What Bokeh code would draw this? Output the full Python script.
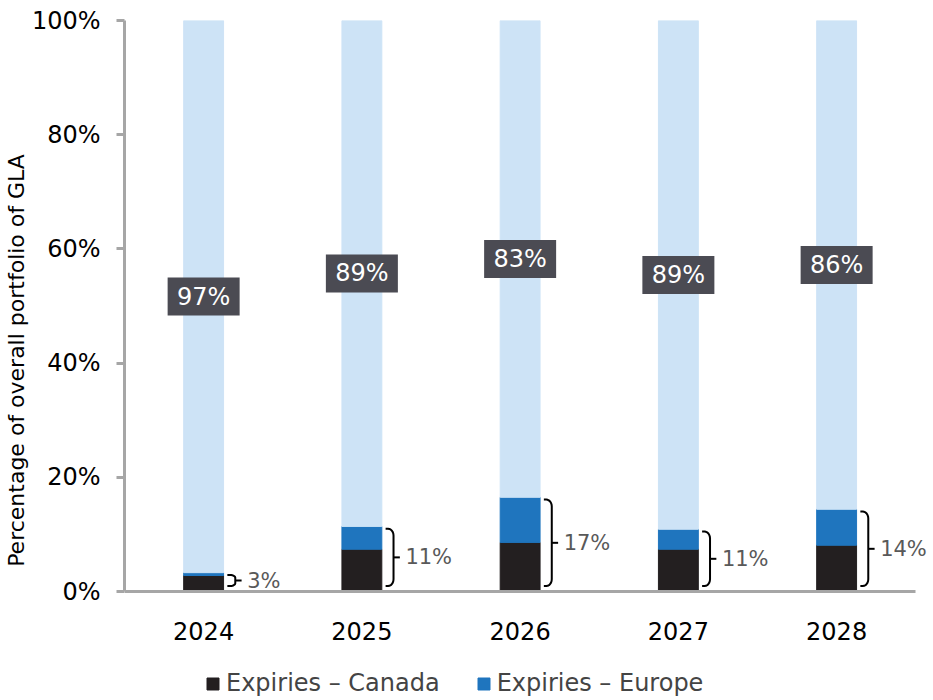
import math
from bokeh.plotting import figure
from bokeh.models import Range1d, FixedTicker, Legend, LegendItem, LabelSet, ColumnDataSource
from bokeh.core.properties import value
from bokeh.embed import file_html
from bokeh.resources import INLINE

years = ["2024", "2025", "2026", "2027", "2028"]
canada = [2.8, 7.4, 8.6, 7.4, 8.1]
europe = [0.5, 4.0, 7.9, 3.5, 6.3]
rest_labels = ["97%", "89%", "83%", "89%", "86%"]
expiry_labels = ["3%", "11%", "17%", "11%", "14%"]
y_ticks = [0, 20, 40, 60, 80, 100]

FONT = "DejaVu Sans"
C_CAN = "#231F20"
C_EUR = "#1F75BE"
C_REST = "#CDE3F6"
GRAY = "#A6A6A6"

xs = list(range(len(years)))
tot = [c + e for c, e in zip(canada, europe)]

FW, FH = 809, 680
PX_X = 158.25          # px per category
PX_Y = 5.71            # px per percent
x_start = -0.5
x_end = x_start + FW / PX_X
y_end = 100
y_start = y_end - FH / PX_Y

p = figure(frame_width=FW, frame_height=FH, output_backend="svg", toolbar_location=None,
           x_range=Range1d(x_start, x_end), y_range=Range1d(y_start, y_end),
           min_border_left=124, min_border_right=0, min_border_top=20, min_border_bottom=0)
p.outline_line_color = None
p.xgrid.visible = False
p.ygrid.visible = False

W = 0.252
r_can = p.vbar(x=xs, bottom=0, top=canada, width=W, color=C_CAN)
r_eur = p.vbar(x=xs, bottom=canada, top=tot, width=W, color=C_EUR)
p.vbar(x=xs, bottom=tot, top=100, width=W, color=C_REST)

# centre labels on the remaining share
mid = [(t + 100) / 2 for t in tot]
p.rect(x=xs, y=mid, width=72, height=38, width_units="screen", height_units="screen",
       fill_color="#4B4B53", line_color=None)
p.text(x=xs, y=mid, text=rest_labels, text_color="white", text_align="center",
       text_baseline="middle", text_font=value(FONT), text_font_size="24px")

# braces spanning the expiries
bx, by = [], []
for i, t in enumerate(tot):
    top = t - 0.4
    bot = 0.95
    m = (top + bot) / 2
    x0, x1, x2 = i + 0.15, i + 0.2, i + 0.24
    rx = 0.035
    ry = min(1.2, (top - bot) / 4)
    px, py = [x0], [top]
    for k in range(7):
        a = math.pi / 2 - k * (math.pi / 2) / 6
        px.append(x1 - rx + rx * math.cos(a)); py.append(top - ry + ry * math.sin(a))
    for k in range(7):
        a = -k * (math.pi / 2) / 6
        px.append(x1 - rx + rx * math.cos(a)); py.append(bot + ry + ry * math.sin(a))
    px.append(x0); py.append(bot)
    bx.append(px); by.append(py)
    bx.append([x1, x2]); by.append([m, m])
p.multi_line(xs=bx, ys=by, line_color="black", line_width=2)

lab_src = ColumnDataSource(dict(x=[i + 0.275 for i in xs],
                                y=[(t - 0.4 + 0.95) / 2 for t in tot],
                                text=expiry_labels))
p.add_layout(LabelSet(x="x", y="y", text="text", source=lab_src,
                      text_color="#595959", text_align="left", text_baseline="middle",
                      text_font=value(FONT), text_font_size="21px"))

# y axis
p.yaxis.bounds = (0, 100)
p.yaxis.ticker = FixedTicker(ticks=y_ticks)
p.yaxis.major_label_overrides = {t: f"{t}%" for t in y_ticks}
p.yaxis.axis_label = "Percentage of overall portfolio of GLA"
p.yaxis.axis_label_text_font = FONT
p.yaxis.axis_label_text_font_style = "normal"
p.yaxis.axis_label_text_font_size = "22px"
p.yaxis.axis_label_text_color = "black"
p.yaxis.axis_label_standoff = 0
p.yaxis.major_label_text_font = FONT
p.yaxis.major_label_text_font_size = "24px"
p.yaxis.major_label_text_color = "black"
p.yaxis.axis_line_color = GRAY
p.yaxis.axis_line_width = 3
p.yaxis.major_tick_line_color = GRAY
p.yaxis.major_tick_line_width = 3
p.yaxis.major_tick_out = 8
p.yaxis.major_tick_in = 0
p.yaxis.minor_tick_line_color = None
p.yaxis.major_label_standoff = 16

# x axis, drawn at the 0% line
p.xaxis.fixed_location = 0
p.xaxis.bounds = (x_start, len(years) - 0.5)
p.xaxis.ticker = FixedTicker(ticks=xs)
p.xaxis.major_label_overrides = {i: y for i, y in zip(xs, years)}
p.xaxis.major_label_text_font = FONT
p.xaxis.major_label_text_font_size = "24px"
p.xaxis.major_label_text_color = "black"
p.xaxis.axis_line_color = GRAY
p.xaxis.axis_line_width = 3
p.xaxis.major_tick_line_color = None
p.xaxis.minor_tick_line_color = None
p.xaxis.major_label_standoff = 24

legend = Legend(items=[LegendItem(label="Expiries \u2013 Canada", renderers=[r_can]),
                       LegendItem(label="Expiries \u2013 Europe", renderers=[r_eur])],
                orientation="horizontal", location=(81, 3),
                label_text_font=FONT, label_text_font_size="24px",
                glyph_width=15, glyph_height=15, spacing=36, label_standoff=6,
                border_line_color=None, background_fill_alpha=0, padding=0, margin=0)
p.add_layout(legend, "center")

open("out.html", "w").write(file_html(p, INLINE))
